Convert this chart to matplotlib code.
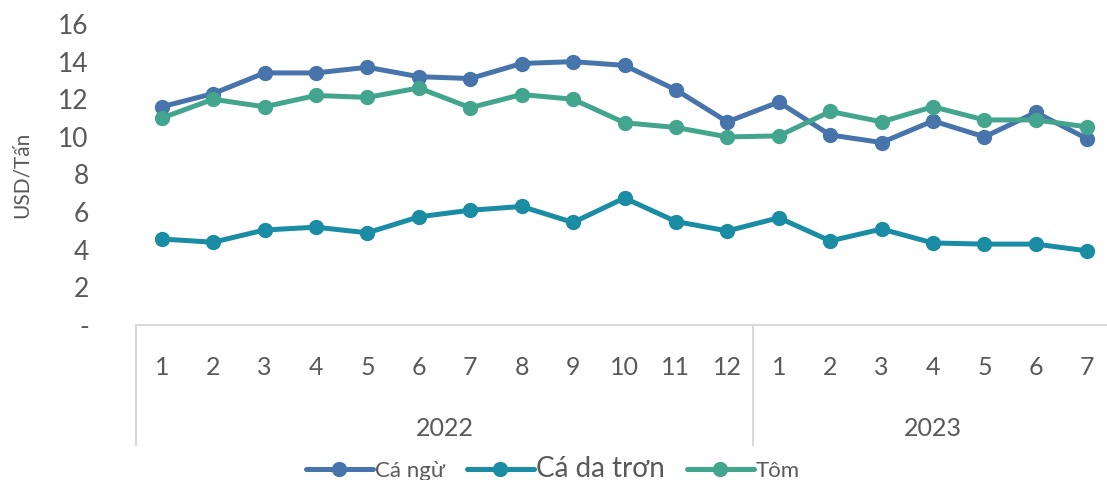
import numpy as np
import matplotlib
matplotlib.use("Agg")
from matplotlib import pyplot as plt
from matplotlib.transforms import blended_transform_factory

plt.rcParams['font.family'] = ['Lato', 'DejaVu Sans']

months = ['1', '2', '3', '4', '5', '6', '7', '8', '9', '10', '11', '12',
          '1', '2', '3', '4', '5', '6', '7']
years = ['2022', '2023']
year_len = [12, 7]

ca_ngu = [11.6, 12.3, 13.4, 13.4, 13.7, 13.2, 13.1, 13.9, 14.0, 13.8, 12.5, 10.8,
          11.85, 10.1, 9.7, 10.85, 10.0, 11.3, 9.9]
ca_da_tron = [4.57, 4.4, 5.05, 5.2, 4.9, 5.75, 6.1, 6.3, 5.45, 6.75, 5.5, 5.0,
              5.7, 4.47, 5.1, 4.36, 4.3, 4.3, 3.94]
tom = [11.0, 12.0, 11.6, 12.2, 12.1, 12.6, 11.55, 12.25, 12.0, 10.75, 10.5, 10.0,
       10.05, 11.35, 10.8, 11.6, 10.9, 10.9, 10.53]

names = ['Cá ngừ', 'Cá da trơn', 'Tôm']
colors = ['#4674AB', '#1A8CA3', '#44A58E']
gray = '#595959'

fig = plt.figure(figsize=(11.07, 4.8), dpi=100)
ax = fig.add_axes([136 / 1107, 155 / 480, 977 / 1107, 301 / 480])

x = np.arange(len(months))
for vals, name, c in zip([ca_ngu, ca_da_tron, tom], names, colors):
    ax.plot(x, vals, color=c, lw=3.6, marker='o', ms=10, label=name,
            solid_capstyle='round', clip_on=False)

ax.set_xlim(-0.5, len(months) - 0.5)
ax.set_ylim(0, 16)
ax.set_yticks(range(0, 17, 2))
ax.set_yticklabels(['-'] + [str(v) for v in range(2, 17, 2)])
ax.tick_params(axis='y', length=0, labelsize=19, colors=gray, pad=34)
ax.set_xticks([])
for s in ['top', 'right', 'left']:
    ax.spines[s].set_visible(False)
ax.spines['bottom'].set_color('#D9D9D9')
ax.spines['bottom'].set_linewidth(1.5)
ax.set_ylabel('USD/Tấn', fontsize=15, color=gray)
ax.yaxis.set_label_coords(-0.107, 0.5)

tr = blended_transform_factory(ax.transData, ax.transAxes)
for i, m in enumerate(months):
    ax.text(i, -0.14, m, transform=tr, ha='center', va='center',
            fontsize=18, color=gray)

start = 0
bounds = [-0.5]
for y, n in zip(years, year_len):
    ax.text(start + (n - 1) / 2, -0.345, y, transform=tr, ha='center',
            va='center', fontsize=18, color=gray)
    start += n
    bounds.append(start - 0.5)
for b in bounds[:-1]:
    ax.plot([b, b], [0, -0.4], transform=tr, color='#D9D9D9', lw=1.5,
            clip_on=False)

leg = ax.legend(loc='center', bbox_to_anchor=(553 / 1107, 11 / 480),
                bbox_transform=fig.transFigure, ncol=3, frameon=False,
                handlelength=3.0, columnspacing=1.0, handletextpad=0.1,
                fontsize=16)
for t, fs in zip(leg.get_texts(), [16, 20, 16]):
    t.set_fontsize(fs)
    t.set_color(gray)

fig.savefig('out.png', dpi=100)
